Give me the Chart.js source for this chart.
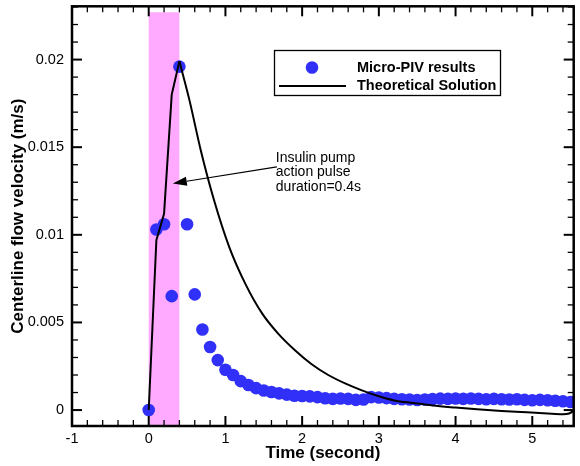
<!DOCTYPE html>
<html>
<head>
<meta charset="utf-8">
<script src="https://cdn.jsdelivr.net/npm/chart.js@4/dist/chart.umd.min.js"></script>
<style>
  html, body { margin: 0; padding: 0; background: #fff; }
  #wrap { width: 580px; height: 466px; }
</style>
</head>
<body>
<div id="wrap"><canvas id="chart"></canvas></div>
<script>
// Micro-PIV measurements (one every 0.1 s)
const pivTime = [0, 0.1, 0.2, 0.3, 0.4, 0.5, 0.6, 0.7, 0.8, 0.9,
  1.0, 1.1, 1.2, 1.3, 1.4, 1.5, 1.6, 1.7, 1.8, 1.9,
  2.0, 2.1, 2.2, 2.3, 2.4, 2.5, 2.6, 2.7, 2.8, 2.9,
  3.0, 3.1, 3.2, 3.3, 3.4, 3.5, 3.6, 3.7, 3.8, 3.9,
  4.0, 4.1, 4.2, 4.3, 4.4, 4.5, 4.6, 4.7, 4.8, 4.9,
  5.0, 5.1, 5.2, 5.3, 5.4, 5.5];
const pivVelocity = [0, 0.0103, 0.0106, 0.0065, 0.0196, 0.0106, 0.0066, 0.0046, 0.0036, 0.00285,
  0.0023, 0.0020, 0.00165, 0.00143, 0.00125, 0.00112, 0.00103, 0.00095, 0.00088, 0.00082,
  0.00080, 0.00078, 0.00074, 0.00067, 0.00064, 0.00066, 0.00064, 0.00058, 0.00060, 0.00074,
  0.00072, 0.00068, 0.00064, 0.00062, 0.00060, 0.00057, 0.00060, 0.00063, 0.00065, 0.00064,
  0.00066, 0.00064, 0.00066, 0.00064, 0.00062, 0.00064, 0.00062, 0.00060, 0.00062, 0.00058,
  0.00056, 0.00058, 0.00056, 0.00053, 0.00050, 0.00046];

// theoretical solution: sharp rise during the pulse, smooth decay afterwards
const theoryRiseTime = [0, 0.1, 0.2, 0.3, 0.4];
const theoryRiseVelocity = [0, 0.0097, 0.0112, 0.0180, 0.0199];
const theoryDecayTime = [0.4, 0.53, 0.68, 0.85, 1.05, 1.26, 1.48, 1.69, 1.91,
  2.12, 2.34, 2.56, 2.77, 2.99, 3.2, 3.45, 3.7, 4.0, 4.28, 4.6, 4.93, 5.2, 5.4, 5.48, 5.55];
const theoryDecayVelocity = [0.0199, 0.0177, 0.0148, 0.0120, 0.0093, 0.0072, 0.0055, 0.00435, 0.0034,
  0.00263, 0.0020, 0.00152, 0.00114, 0.00080, 0.00055, 0.00040, 0.00026, 0.00014, 0.00004, -0.00005, -0.00013, -0.0002, -0.00024, -0.0002, 0.0];

const xTickValues = [-1, 0, 1, 2, 3, 4, 5];
const yTickValues = [0, 0.005, 0.01, 0.015, 0.02];
const xRange = [-1, 5.54];
const yRange = [-0.00091, 0.02304];

// pump pulse window
const pulseWindow = [0, 0.4];
const pulseTop = 0.0227;

const noteLines = ['Insulin pump', 'action pulse', 'duration=0.4s'];
const noteArrowFrom = [1.67, 0.01388];
const noteArrowTo = [0.314, 0.01293];

const legendLabels = ['Micro-PIV results', 'Theoretical Solution'];

const FONT = '"Liberation Sans", Arial, Helvetica, sans-serif';
const DOT = 'rgb(48,48,248)';

const decorPlugin = {
  id: 'decor',
  beforeDatasetsDraw(chart) {
    const { ctx, scales: { x, y } } = chart;
    const x0 = x.getPixelForValue(pulseWindow[0]);
    const x1 = x.getPixelForValue(pulseWindow[1]);
    const yt = y.getPixelForValue(pulseTop);
    ctx.save();
    ctx.fillStyle = '#ffaaff';
    ctx.fillRect(x0, yt, x1 - x0, chart.chartArea.bottom - yt);
    ctx.restore();
  },
  afterDatasetsDraw(chart) {
    const { ctx, chartArea: a, scales: { x, y } } = chart;
    ctx.save();
    // frame
    ctx.strokeStyle = '#000';
    ctx.lineWidth = 2.5;
    ctx.strokeRect(a.left, a.top, a.right - a.left, a.bottom - a.top);

    // ticks, all pointing inwards, mirrored on the opposite side
    const tick = (x1, y1, x2, y2, w) => {
      ctx.lineWidth = w;
      ctx.beginPath(); ctx.moveTo(x1, y1); ctx.lineTo(x2, y2); ctx.stroke();
    };
    for (let k = -5; k <= 27; k++) {
      const v = k * 0.2;
      if (v < xRange[0] || v > xRange[1]) continue;
      const px = x.getPixelForValue(v);
      const major = k % 5 === 0;
      const len = major ? 10 : 6;
      tick(px, a.bottom, px, a.bottom - len, major ? 2 : 1.3);
      tick(px, a.top, px, a.top + len, major ? 2 : 1.3);
    }
    for (let k = 0; k <= 23; k++) {
      const v = k * 0.001;
      if (v > yRange[1]) continue;
      const py = y.getPixelForValue(v);
      const major = k % 5 === 0;
      const len = major ? 10 : 6;
      tick(a.left, py, a.left + len, py, major ? 2 : 1.3);
      tick(a.right, py, a.right - len, py, major ? 2 : 1.3);
    }

    // annotation
    const fx = x.getPixelForValue(noteArrowFrom[0]), fy = y.getPixelForValue(noteArrowFrom[1]);
    const tx = x.getPixelForValue(noteArrowTo[0]), ty = y.getPixelForValue(noteArrowTo[1]);
    const ang = Math.atan2(ty - fy, tx - fx);
    const head = 14, half = 4.5;
    const bx = tx - head * Math.cos(ang), by = ty - head * Math.sin(ang);
    ctx.lineWidth = 1.2;
    ctx.beginPath(); ctx.moveTo(fx, fy); ctx.lineTo(bx, by); ctx.stroke();
    ctx.fillStyle = '#000';
    ctx.beginPath();
    ctx.moveTo(tx, ty);
    ctx.lineTo(bx + half * Math.sin(ang), by - half * Math.cos(ang));
    ctx.lineTo(bx - half * Math.sin(ang), by + half * Math.cos(ang));
    ctx.closePath(); ctx.fill();

    ctx.font = '14px ' + FONT;
    ctx.textAlign = 'left';
    ctx.textBaseline = 'middle';
    noteLines.forEach((t, i) => ctx.fillText(t, fx - 1, fy - 9 + i * 14.8));

    // legend box
    ctx.lineWidth = 1.3;
    ctx.strokeRect(274.5, 50.5, 226, 45);
    ctx.fillStyle = DOT;
    ctx.beginPath(); ctx.arc(312, 67.5, 6.3, 0, Math.PI * 2); ctx.fill();
    ctx.lineWidth = 2;
    ctx.beginPath(); ctx.moveTo(279, 86); ctx.lineTo(346, 86); ctx.stroke();
    ctx.fillStyle = '#000';
    ctx.font = 'bold 14.5px ' + FONT;
    ctx.fillText(legendLabels[0], 357, 67.5);
    ctx.fillText(legendLabels[1], 357, 85.5);
    ctx.restore();
  }
};

const pairs = (xs, ys) => xs.map((t, i) => ({ x: t, y: ys[i] }));

new Chart(document.getElementById('chart'), {
  type: 'scatter',
  data: {
    datasets: [
      {
        label: legendLabels[0],
        data: pairs(pivTime, pivVelocity),
        backgroundColor: DOT,
        borderWidth: 0,
        pointRadius: 6.3,
        order: 1
      },
      {
        label: legendLabels[1],
        data: pairs(theoryRiseTime, theoryRiseVelocity),
        showLine: true,
        borderColor: '#000',
        borderWidth: 2,
        pointRadius: 0,
        tension: 0,
        order: 0
      },
      {
        label: legendLabels[1],
        data: pairs(theoryDecayTime, theoryDecayVelocity),
        showLine: true,
        borderColor: '#000',
        borderWidth: 2,
        pointRadius: 0,
        cubicInterpolationMode: 'monotone',
        order: 0
      }
    ]
  },
  options: {
    responsive: true,
    maintainAspectRatio: false,
    animation: false,
    layout: { padding: { top: 6, right: 3, left: 0, bottom: 0 } },
    plugins: { legend: { display: false }, tooltip: { enabled: false } },
    scales: {
      x: {
        type: 'linear',
        min: xRange[0], max: xRange[1],
        grid: { display: false, drawTicks: false },
        border: { display: false },
        afterBuildTicks: s => { s.ticks = xTickValues.map(v => ({ value: v })); },
        afterFit: s => { s.height = 40; s.paddingLeft = 0; s.paddingRight = 0; },
        ticks: {
          padding: 4, color: '#000', maxRotation: 0,
          font: { family: FONT, size: 14.5 },
          callback: v => String(v)
        },
        title: {
          display: true, text: 'Time (second)', color: '#000',
          font: { family: FONT, size: 17, weight: 'bold' },
          padding: { top: 0, bottom: 2 }
        }
      },
      y: {
        type: 'linear',
        min: yRange[0], max: yRange[1],
        grid: { display: false, drawTicks: false },
        border: { display: false },
        afterBuildTicks: s => { s.ticks = yTickValues.map(v => ({ value: v })); },
        afterFit: s => { s.width = 72; s.paddingTop = 0; s.paddingBottom = 0; },
        ticks: {
          padding: 8, color: '#000',
          font: { family: FONT, size: 14.5 },
          callback: v => String(v)
        },
        title: {
          display: true, text: 'Centerline flow velocity (m/s)', color: '#000',
          font: { family: FONT, size: 17, weight: 'bold' },
          padding: { top: 8, bottom: 0 }
        }
      }
    }
  },
  plugins: [decorPlugin]
});
</script>
</body>
</html>
